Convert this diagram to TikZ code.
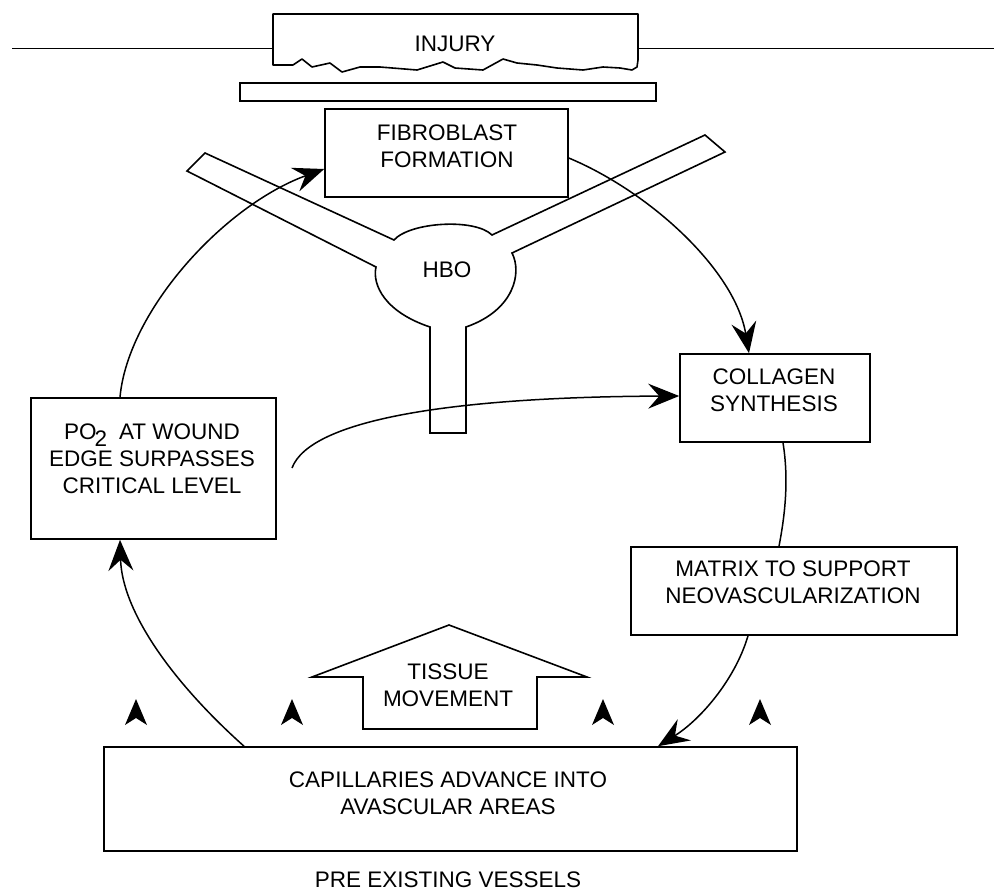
\documentclass[tikz,border=0pt]{standalone}
\usepackage{fontspec}
\setmainfont{Liberation Sans}
\usetikzlibrary{arrows.meta}
\begin{document}
\begin{tikzpicture}[x=1pt,y=-1pt,
  outline/.style={draw=black, line width=1.6pt},
  box/.style={outline, rectangle, inner sep=0pt},
  lbl/.style={align=center, inner sep=0pt, font=\fontsize{22.5}{27}\selectfont},
  link/.style={line width=1.5pt},
  flow/.style={link, -{Stealth[length=31pt,width=25pt,inset=11pt]}}
]
\useasboundingbox (0,0) rectangle (994,892);

% skin surface and the wound
\coordinate (edgeL) at (12,48.5);
\coordinate (edgeR) at (994,48.5);
\coordinate (injL) at (273,48.5);
\coordinate (injR) at (638,48.5);
\draw[link] (edgeL) -- (injL);
\draw[link] (injR) -- (edgeR);
\draw[outline, line join=round] (273,65) -- (273,14) -- (638,14) -- (638,60)
  -- (637,67) -- (632,70) -- (620,68) -- (603,67) -- (583,70) -- (557,68)
  -- (537,65) -- (517,63) -- (503,59) -- (483,70) -- (455,68) -- (443,62)
  -- (417,70) -- (380,67) -- (360,67) -- (342,72) -- (330,63) -- (312,67)
  -- (302,59) -- (293,65) -- cycle;
\node[lbl] (injury) at (455,44) {INJURY};

% layer beneath the wound
\node[box, minimum width=416pt, minimum height=18pt] (bar) at (448,92) {};

% boxes of the cycle
\node[box, minimum width=243pt, minimum height=88pt] (fib) at (446.5,153) {};
\node[lbl] (fibtxt) at (447,146.5) {FIBROBLAST\\FORMATION};

\node[box, minimum width=190pt, minimum height=88pt] (col) at (775,398) {};
\node[lbl] (coltxt) at (774,390) {COLLAGEN\\SYNTHESIS};

\node[box, minimum width=326pt, minimum height=88pt] (mat) at (794,591) {};
\node[lbl] (mattxt) at (793,582.5) {MATRIX TO SUPPORT\\NEOVASCULARIZATION};

\node[box, minimum width=693pt, minimum height=104pt] (cap) at (450.5,799) {};
\node[lbl] (captxt) at (448,793) {CAPILLARIES ADVANCE INTO\\AVASCULAR AREAS};

\node[box, minimum width=245pt, minimum height=141pt] (po2) at (153.5,468.5) {};
\node[lbl] (po2txt) at (152,459) {PO\kern-2pt\raisebox{-7pt}{2}\hspace{12pt}AT WOUND\\EDGE SURPASSES\\CRITICAL LEVEL};

\node[lbl] (vessels) at (448,880) {PRE EXISTING VESSELS};

% HBO outline with its three limbs
\draw[outline, line join=miter] (205,153) -- (394,240)
  .. controls (410,222) and (475,218) .. (492,235) -- (705,135) -- (725,152)
  -- (512,253) .. controls (522,272) and (515,310) .. (466,327)
  -- (466,433) -- (430,433) -- (430,327)
  .. controls (385,312) and (372,285) .. (376,267) -- (187,171) -- cycle;
\node[lbl] (hbo) at (447,270) {HBO};

% tissue movement arrow
\draw[outline, line join=miter] (449,625) -- (587,677) -- (537,677) -- (537,729)
  -- (363,729) -- (363,677) -- (312,677) -- cycle;
\node[lbl] (tissue) at (448,685.5) {TISSUE\\MOVEMENT};

% small growth markers above the capillary bed
\foreach \sx in {136,292,603,760}
  \fill (\sx,699) -- (\sx+11,725) -- (\sx,718) -- (\sx-11,725) -- cycle;

% cycle connectors
\draw[flow] ([xshift=-33.5pt]po2.north) .. controls (128,310) and (225,205) .. ([yshift=-16pt]fib.west);
\draw[flow] ([yshift=-5pt]fib.east) .. controls (650,192) and (735,270) .. ([xshift=-26pt]col.north);
\draw[link] ([xshift=8pt]col.south) .. controls (789,480) and (785,515) .. ([xshift=-15pt]mat.north);
\draw[flow] ([xshift=-46pt]mat.south) .. controls (735,680) and (700,720) .. ([xshift=207.5pt]cap.north);
\draw[flow] ([xshift=-206.5pt]cap.north) .. controls (170,680) and (122,610) .. ([xshift=-33.5pt]po2.south);
\coordinate (fbk) at (292,468);
\draw[flow] (fbk) .. controls (310,420) and (450,397) .. ([yshift=2pt]col.west);
\end{tikzpicture}
\end{document}
